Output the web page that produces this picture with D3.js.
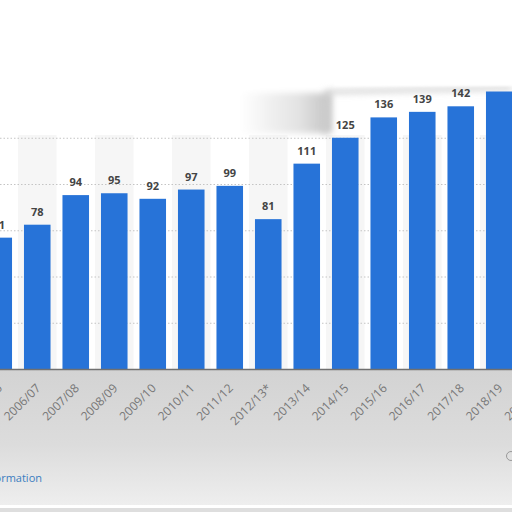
<!DOCTYPE html>
<html lang="en">
<head>
<meta charset="UTF-8">
<title>Bar chart</title>
<script src="https://cdn.jsdelivr.net/npm/d3@7"></script>
<style>
  body{ margin:0; background:#fff; }
  svg{ display:block; }
  .val{ font-family:"Open Sans", sans-serif; font-size:11px; font-weight:bold; fill:#444; }
  .xlab{ font-family:"Open Sans", sans-serif; font-size:12px; fill:#777; }
  .link{ font-family:"Open Sans", sans-serif; font-size:11px; fill:#3a7dc0; }
</style>
</head>
<body>
<script>
    // data
    const seasons = ["2005/06","2006/07","2007/08","2008/09","2009/10","2010/11","2011/12",
                     "2012/13*","2013/14","2014/15","2015/16","2016/17","2017/18","2018/19","2019/20"];
    const values  = [71, 78, 94, 95, 92, 97, 99, 81, 111, 125, 136, 139, 142, 150, null];
    const gridTicks = [25, 50, 75, 100, 125];

    const width = 512, height = 512;
    const baseY = 369;

    const svg = d3.select("body").append("svg")
        .attr("width", width).attr("height", height);

    const defs = svg.append("defs");
    defs.append("filter").attr("id","blur").attr("x","-20%").attr("y","-50%")
        .attr("width","140%").attr("height","200%")
        .append("feGaussianBlur").attr("stdDeviation", 3);
    defs.append("filter").attr("id","blurS")
        .append("feGaussianBlur").attr("stdDeviation", 1.2);

    const gFoot = defs.append("linearGradient").attr("id","foot")
        .attr("x1",0).attr("y1",0).attr("x2",0).attr("y2",1);
    gFoot.append("stop").attr("offset","0%").attr("stop-color","#d3d3d3");
    gFoot.append("stop").attr("offset","55%").attr("stop-color","#dcdcdc");
    gFoot.append("stop").attr("offset","100%").attr("stop-color","#eeeeee");

    const gShade = defs.append("linearGradient").attr("id","shade")
        .attr("x1",0).attr("y1",0).attr("x2",1).attr("y2",0);
    gShade.append("stop").attr("offset","0%").attr("stop-color","#ffffff");
    gShade.append("stop").attr("offset","65%").attr("stop-color","#e2e2e2");
    gShade.append("stop").attr("offset","100%").attr("stop-color","#c2c2c2");

    ////////////////////////////////////////////////////////////////
    /*                       scales                                */
    ////////////////////////////////////////////////////////////////
    const x = d3.scaleBand()
        .domain(seasons)
        .range([-20.5, 557])
        .paddingInner(0.31)
        .paddingOuter(0.155);

    const y = d3.scaleLinear()
        .domain([0, 150])
        .range([baseY, 91.5]);

    const step = x.step();

    // alternate column shading
    svg.append("g").selectAll("rect")
        .data(seasons.filter((d,i) => i % 2 === 1))
        .join("rect")
        .attr("x", d => x(d) - (step - x.bandwidth()) / 2)
        .attr("y", 135)
        .attr("width", step)
        .attr("height", baseY - 135)
        .attr("fill", "#f6f6f6");

    // grid lines
    svg.append("g").selectAll("line")
        .data(gridTicks)
        .join("line")
        .attr("x1", 0).attr("x2", width)
        .attr("y1", d => y(d) + 0.5).attr("y2", d => y(d) + 0.5)
        .attr("stroke", "#c4c4c4")
        .attr("stroke-dasharray", "1.5,2");

    // shadow step of the frame
    svg.append("rect")
        .attr("x", 240).attr("y", 93).attr("width", 92).attr("height", 40)
        .attr("fill", "url(#shade)").attr("filter", "url(#blur)");
    svg.append("line")
        .attr("x1", 0).attr("x2", 330).attr("y1", 134).attr("y2", 134)
        .attr("stroke", "#bdbdbd").attr("stroke-width", 2).attr("filter", "url(#blurS)");
    svg.append("path")
        .attr("d", "M325,134 L327,92 L512,88")
        .attr("fill", "none")
        .attr("stroke", "#cfcfcf").attr("stroke-width", 4).attr("filter", "url(#blur)");

    ////////////////////////////////////////////////////////////////
    /*                         bars                                */
    ////////////////////////////////////////////////////////////////
    const data = seasons.map((s, i) => ({season: s, value: values[i]}))
        .filter(d => d.value != null);

    svg.append("g").selectAll("rect")
        .data(data)
        .join("rect")
        .attr("x", d => x(d.season))
        .attr("y", d => y(d.value))
        .attr("width", x.bandwidth())
        .attr("height", d => baseY - y(d.value))
        .attr("fill", "#2773d8");

    svg.append("g").selectAll("text")
        .data(data)
        .join("text")
        .attr("class", "val")
        .attr("x", d => x(d.season) + x.bandwidth() / 2)
        .attr("y", d => y(d.value) - 9)
        .attr("text-anchor", "middle")
        .text(d => d.value);

    // white cover above the frame top (hides the cut off label)
    svg.append("rect")
        .attr("x", 334).attr("y", 40).attr("width", 200).attr("height", 46)
        .attr("fill", "#fff").attr("filter", "url(#blurS)");

    ////////////////////////////////////////////////////////////////
    /*                   footer and x axis                         */
    ////////////////////////////////////////////////////////////////
    svg.append("rect")
        .attr("x", 0).attr("y", baseY + 1).attr("width", width).attr("height", 504 - baseY)
        .attr("fill", "url(#foot)");
    svg.append("rect")
        .attr("x", 0).attr("y", 508).attr("width", width).attr("height", 4)
        .attr("fill", "#dedede");

    svg.append("line")
        .attr("x1", 0).attr("x2", width)
        .attr("y1", baseY + 0.5).attr("y2", baseY + 0.5)
        .attr("stroke", "#707070").attr("stroke-width", 1.5);

    svg.append("g").selectAll("text")
        .data(seasons)
        .join("text")
        .attr("class", "xlab")
        .attr("text-anchor", "end")
        .attr("transform", d => `translate(${x(d) + x.bandwidth() / 2 + 4},${baseY + 20}) rotate(-45)`)
        .text(d => d);

    svg.append("text")
        .attr("class", "link")
        .attr("x", 42).attr("y", 482)
        .attr("text-anchor", "end")
        .text("Additional Information");

    svg.append("circle")
        .attr("cx", 511).attr("cy", 456).attr("r", 4.5)
        .attr("fill", "none").attr("stroke", "#999").attr("stroke-width", 1);
</script>
</body>
</html>
